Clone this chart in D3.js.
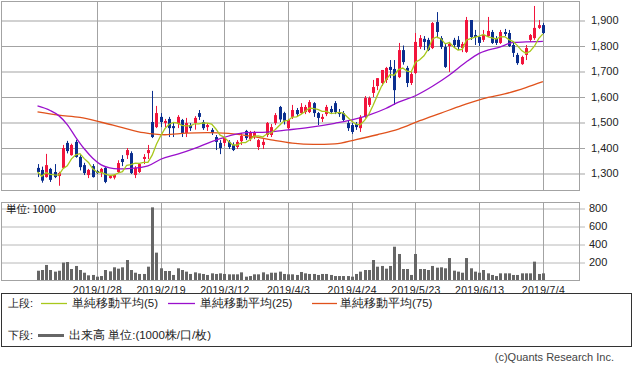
<!DOCTYPE html>
<html>
<head>
<meta charset="utf-8">
<script src="https://cdn.jsdelivr.net/npm/d3@7"></script>
<style>
  body { margin: 0; background: #fff; }
  svg text { font-family: "Liberation Sans", Arial, sans-serif; }
  .jp { font-family: "Noto Sans CJK JP", sans-serif; }
</style>
</head>
<body>
<div id="chart"></div>
<script>
// trading days shown (2019)
const dates = [
  "2019/1/7","2019/1/8","2019/1/9","2019/1/10","2019/1/11","2019/1/15","2019/1/16","2019/1/17","2019/1/18",
  "2019/1/21","2019/1/22","2019/1/23","2019/1/24","2019/1/25","2019/1/28","2019/1/29","2019/1/30","2019/1/31",
  "2019/2/1","2019/2/4","2019/2/5","2019/2/6","2019/2/7","2019/2/8","2019/2/12","2019/2/13","2019/2/14","2019/2/15",
  "2019/2/18","2019/2/19","2019/2/20","2019/2/21","2019/2/22","2019/2/25","2019/2/26","2019/2/27","2019/2/28",
  "2019/3/1","2019/3/4","2019/3/5","2019/3/6","2019/3/7","2019/3/8","2019/3/11","2019/3/12","2019/3/13","2019/3/14",
  "2019/3/15","2019/3/18","2019/3/19","2019/3/20","2019/3/22","2019/3/25","2019/3/26","2019/3/27","2019/3/28","2019/3/29",
  "2019/4/1","2019/4/2","2019/4/3","2019/4/4","2019/4/5","2019/4/8","2019/4/9","2019/4/10","2019/4/11","2019/4/12",
  "2019/4/15","2019/4/16","2019/4/17","2019/4/18","2019/4/19","2019/4/22","2019/4/23","2019/4/24","2019/4/25","2019/4/26",
  "2019/5/7","2019/5/8","2019/5/9","2019/5/10","2019/5/13","2019/5/14","2019/5/15","2019/5/16","2019/5/17","2019/5/20",
  "2019/5/21","2019/5/22","2019/5/23","2019/5/24","2019/5/27","2019/5/28","2019/5/29","2019/5/30","2019/5/31",
  "2019/6/3","2019/6/4","2019/6/5","2019/6/6","2019/6/7","2019/6/10","2019/6/11","2019/6/12","2019/6/13","2019/6/14",
  "2019/6/17","2019/6/18","2019/6/19","2019/6/20","2019/6/21","2019/6/24","2019/6/25","2019/6/26","2019/6/27","2019/6/28",
  "2019/7/1","2019/7/2","2019/7/3","2019/7/4"
];

const open = [
  1320,1312,1284,1316,1304,1288,1320,1418,1370,1422,1363,1331,1292,1327,1308,1300,1320,1280,1282,1304,
  1355,1370,1378,1292,1304,1355,1378,1500,1480,1520,1496,1512,1484,1492,1508,1457,1488,1496,1535,1500,
  1480,1469,1441,1418,1418,1422,1410,1402,1425,1465,1433,1445,1402,1410,1449,1449,1496,1559,1535,1476,
  1520,1547,1535,1539,1539,1574,1535,1512,1531,1551,1574,1539,1535,1496,1488,1492,1476,1520,1567,1614,
  1641,1653,1665,1716,1708,1676,1782,1712,1653,1692,1794,1826,1822,1790,1892,1829,1794,1798,1822,1822,
  1790,1775,1900,1841,1833,1822,1837,1853,1829,1810,1853,1849,1802,1763,1727,1763,1822,1829,1869,1880
];
const high = [
  1335,1325,1375,1320,1335,1305,1410,1426,1415,1430,1370,1340,1316,1335,1312,1320,1323,1292,1296,1350,
  1370,1398,1385,1327,1339,1374,1410,1622,1563,1535,1512,1520,1496,1527,1512,1516,1496,1523,1547,1508,
  1496,1476,1449,1429,1441,1429,1420,1429,1457,1469,1465,1465,1433,1433,1500,1492,1535,1563,1540,1512,
  1567,1555,1574,1567,1586,1578,1539,1531,1567,1563,1582,1551,1543,1504,1496,1500,1527,1602,1600,1665,
  1672,1704,1716,1743,1743,1810,1800,1720,1700,1849,1841,1837,1830,1892,1931,1837,1810,1814,1830,1837,
  1814,1912,1900,1861,1837,1861,1912,1861,1837,1861,1865,1861,1810,1771,1760,1802,1845,1955,1900,1888
];
const low = [
  1284,1262,1282,1265,1280,1250,1318,1377,1368,1360,1310,1292,1280,1282,1296,1284,1260,1278,1275,1300,
  1327,1355,1296,1280,1300,1335,1355,1437,1476,1480,1480,1441,1441,1476,1441,1441,1465,1470,1508,1469,
  1465,1449,1390,1374,1406,1394,1386,1394,1410,1429,1425,1433,1390,1394,1441,1441,1488,1500,1490,1472,
  1512,1520,1531,1531,1535,1520,1488,1500,1523,1531,1531,1520,1500,1465,1453,1469,1461,1516,1559,1598,
  1625,1641,1653,1672,1567,1672,1725,1637,1645,1688,1786,1782,1778,1786,1829,1786,1712,1696,1790,1782,
  1774,1771,1822,1802,1798,1814,1833,1806,1802,1806,1837,1794,1755,1724,1724,1743,1814,1822,1865,1845
];
const close = [
  1304,1270,1331,1273,1284,1300,1398,1386,1410,1363,1323,1300,1312,1284,1300,1316,1265,1288,1292,1339,
  1343,1390,1300,1320,1335,1363,1390,1441,1535,1500,1504,1476,1476,1520,1457,1496,1476,1516,1520,1476,
  1488,1457,1422,1398,1437,1402,1390,1422,1445,1437,1457,1461,1429,1422,1496,1480,1527,1510,1505,1508,
  1547,1531,1559,1559,1578,1535,1516,1520,1559,1539,1539,1531,1508,1476,1461,1480,1520,1594,1594,1637,
  1672,1704,1712,1704,1625,1782,1735,1653,1688,1814,1829,1814,1782,1888,1853,1794,1716,1806,1802,1794,
  1806,1900,1833,1833,1810,1841,1857,1810,1810,1853,1845,1798,1771,1731,1755,1790,1841,1869,1880,1849
];

// volume, unit 1000
const volume = [
  103,111,167,111,93,103,193,200,122,156,111,81,52,56,37,44,111,96,141,126,
  141,222,111,81,67,67,148,807,304,130,100,100,56,130,111,93,67,85,74,67,
  56,74,67,74,67,63,63,63,85,37,44,63,63,85,63,81,81,93,67,63,
  63,56,89,74,67,67,56,67,67,56,44,44,44,44,37,67,93,111,111,222,
  148,156,126,156,370,289,122,122,56,289,122,122,111,156,137,141,130,244,104,93,
  81,244,130,93,81,111,74,56,44,74,74,74,56,56,74,74,74,204,67,74
];

// moving averages
const ma25Dates = ["2019/1/7","2019/1/10","2019/1/15","2019/1/17","2019/1/21","2019/1/23","2019/1/25","2019/1/29",
  "2019/1/31","2019/2/4","2019/2/7","2019/2/14","2019/2/19","2019/2/25","2019/3/1","2019/3/7","2019/3/12","2019/3/19",
  "2019/3/27","2019/4/3","2019/4/10","2019/4/18","2019/4/24","2019/5/8","2019/5/14","2019/5/17","2019/5/23","2019/5/29",
  "2019/6/4","2019/6/10","2019/6/13","2019/6/20","2019/6/25","2019/6/28","2019/7/4"];
const ma25Values = [1563,1545,1525,1490,1440,1395,1358,1332,1320,1316,1318,1328,1354,1374,1397,1423,1440,1458,
  1460,1469,1479,1495,1508,1527,1553,1578,1603,1640,1684,1736,1769,1795,1812,1814,1816];

const ma75Dates = ["2019/1/7","2019/1/15","2019/1/22","2019/1/29","2019/2/5","2019/2/13","2019/2/20","2019/2/27",
  "2019/3/6","2019/3/13","2019/3/20","2019/3/28","2019/4/4","2019/4/11","2019/4/18","2019/4/25","2019/5/10","2019/5/17",
  "2019/5/24","2019/5/31","2019/6/7","2019/6/14","2019/6/21","2019/6/28","2019/7/4"];
const ma75Values = [1540,1527,1518,1499,1478,1458,1450,1456,1458,1455,1445,1430,1417,1412,1414,1431,1450,1472,
  1505,1535,1565,1592,1610,1635,1658];

const priceTicks = [1300, 1400, 1500, 1600, 1700, 1800, 1900];
const volumeTicks = [200, 400, 600, 800];
const xTickLabels = ["2019/1/28","2019/2/19","2019/3/12","2019/4/3","2019/4/24","2019/5/23","2019/6/13","2019/7/4"];

const svgWidth = 633;
const svgHeight = 371;
const plot = { left: 1, right: 579 };
const pricePanel = { top: 1, bottom: 190 };
const volPanel = { top: 202, bottom: 280 };
const upColor = "#f2143c";
const downColor = "#0a2e8e";
const gridColor = "#a3a3a3";

const svg = d3.select("#chart")
    .append("svg")
    .attr("width", svgWidth)
    .attr("height", svgHeight);

const x = d3.scaleLinear()
    .domain([-8.6, dates.length - 1 + 8.5])
    .range([plot.left, plot.right]);
const yPrice = d3.scaleLinear().domain([1300, 1900]).range([173, 20]);
const yVol = d3.scaleLinear().domain([0, 800]).range([volPanel.bottom, 208]);

const tickIdx = xTickLabels.map(d => dates.indexOf(d));

// grid: horizontal (price) with tick marks to the right
svg.append("g")
    .attr("transform", `translate(${plot.right + 6}, 0)`)
    .call(d3.axisRight(yPrice)
        .tickValues(priceTicks)
        .tickSize(-(plot.right + 6 - plot.left))
        .tickPadding(6)
        .tickFormat(d3.format(",")))
    .call(g => g.select(".domain").remove())
    .call(g => g.selectAll("line").attr("stroke", gridColor)
        .attr("transform", "translate(0,0.5)"))
    .call(g => g.selectAll("text").attr("fill", "#222").style("font-size", "11px"));

svg.append("g")
    .attr("transform", `translate(${plot.right + 6}, 0)`)
    .call(d3.axisRight(yVol)
        .tickValues(volumeTicks)
        .tickSize(-(plot.right + 6 - plot.left))
        .tickPadding(4))
    .call(g => g.select(".domain").remove())
    .call(g => g.selectAll("line").attr("stroke", "#b8b8b8")
        .attr("transform", "translate(0,0.5)"))
    .call(g => g.selectAll("text").attr("fill", "#222").style("font-size", "11px"));

// vertical grid in both panels
[pricePanel, volPanel].forEach(p => {
    svg.append("g")
        .selectAll("line")
        .data(tickIdx)
        .join("line")
        .attr("x1", d => Math.round(x(d)) + 0.5)
        .attr("x2", d => Math.round(x(d)) + 0.5)
        .attr("y1", p.top)
        .attr("y2", p.bottom)
        .attr("stroke", gridColor);
    svg.append("rect")
        .attr("x", plot.left + 0.5)
        .attr("y", p.top + 0.5)
        .attr("width", plot.right - plot.left)
        .attr("height", p.bottom - p.top)
        .attr("fill", "none")
        .attr("stroke", gridColor);
});

// x labels
svg.append("g")
    .attr("transform", `translate(0, ${volPanel.bottom})`)
    .call(d3.axisBottom(x).tickValues(tickIdx).tickSize(0).tickPadding(7)
        .tickFormat((d, i) => xTickLabels[i]))
    .call(g => g.select(".domain").remove())
    .call(g => g.selectAll("text").attr("fill", "#222")
        .style("font-size", "10.5px").style("letter-spacing", "0.3px"));

// volume bars
svg.append("g")
    .selectAll("rect")
    .data(volume)
    .join("rect")
    .attr("x", (d, i) => Math.round(x(i)) - 1)
    .attr("width", 3)
    .attr("y", d => yVol(d))
    .attr("height", d => volPanel.bottom - yVol(d))
    .attr("fill", "#666");

svg.append("text")
    .attr("class", "jp")
    .attr("x", 6)
    .attr("y", 213)
    .style("font-size", "10.5px")
    .attr("fill", "#222")
    .text("単位: 1000");

// candles
const candles = svg.append("g")
    .selectAll("g")
    .data(dates.map((d, i) => ({ i, o: open[i], h: high[i], l: low[i], c: close[i] })))
    .join("g")
    .attr("fill", d => d.c >= d.o ? upColor : downColor)
    .attr("stroke", d => d.c >= d.o ? upColor : downColor);

candles.append("line")
    .attr("x1", d => Math.round(x(d.i)) + 0.5)
    .attr("x2", d => Math.round(x(d.i)) + 0.5)
    .attr("y1", d => yPrice(d.h))
    .attr("y2", d => yPrice(d.l));

candles.append("rect")
    .attr("stroke", "none")
    .attr("x", d => Math.round(x(d.i)) - 1)
    .attr("width", 3)
    .attr("y", d => yPrice(Math.max(d.o, d.c)))
    .attr("height", d => Math.max(1, Math.abs(yPrice(d.o) - yPrice(d.c))));

// moving averages
const ma5 = close.map((c, i) => d3.mean(close.slice(Math.max(0, i - 4), i + 1)));

const lineIdx = d3.line()
    .x((d, i) => x(i))
    .y(d => yPrice(d));
const lineDated = d3.line()
    .x(d => x(dates.indexOf(d[0])))
    .y(d => yPrice(d[1]))
    .curve(d3.curveMonotoneX);

svg.append("path")
    .attr("d", lineDated(d3.zip(ma75Dates, ma75Values)))
    .attr("fill", "none")
    .attr("stroke", "#e0521c")
    .attr("stroke-width", 1.3);

svg.append("path")
    .attr("d", lineDated(d3.zip(ma25Dates, ma25Values)))
    .attr("fill", "none")
    .attr("stroke", "#9a10cc")
    .attr("stroke-width", 1.3);

svg.append("path")
    .attr("d", lineIdx(ma5))
    .attr("fill", "none")
    .attr("stroke", "#a8c81c")
    .attr("stroke-width", 1.3);

// legend
const legend = svg.append("g").attr("class", "jp").style("font-size", "11.5px").attr("fill", "#222");
legend.append("rect")
    .attr("x", 1.5).attr("y", 293.5)
    .attr("width", 630).attr("height", 53)
    .attr("fill", "none").attr("stroke", "#333");

const legendRows = [
    { label: "上段:", y: 303, items: [
        { x1: 41, x2: 67, color: "#a8c81c", w: 1.3, text: "単純移動平均(5)", tx: 72 },
        { x1: 168, x2: 195, color: "#9a10cc", w: 1.3, text: "単純移動平均(25)", tx: 200 },
        { x1: 312, x2: 337, color: "#e0521c", w: 1.3, text: "単純移動平均(75)", tx: 340 }
    ]},
    { label: "下段:", y: 335, items: [
        { x1: 38, x2: 64, color: "#666", w: 3, text: "出来高 単位:(1000株/口/枚)", tx: 69 }
    ]}
];

legendRows.forEach(row => {
    legend.append("text").attr("x", 8).attr("y", row.y + 4)
        .style("font-size", "11px").text(row.label);
    row.items.forEach(it => {
        legend.append("line")
            .attr("x1", it.x1).attr("x2", it.x2)
            .attr("y1", row.y + 0.5).attr("y2", row.y + 0.5)
            .attr("stroke", it.color).attr("stroke-width", it.w);
        legend.append("text").attr("x", it.tx).attr("y", row.y + 4).text(it.text);
    });
});

svg.append("text")
    .attr("x", 614)
    .attr("y", 361)
    .attr("text-anchor", "end")
    .style("font-size", "11px")
    .attr("fill", "#444")
    .text("(c)Quants Research Inc.");
</script>
</body>
</html>
